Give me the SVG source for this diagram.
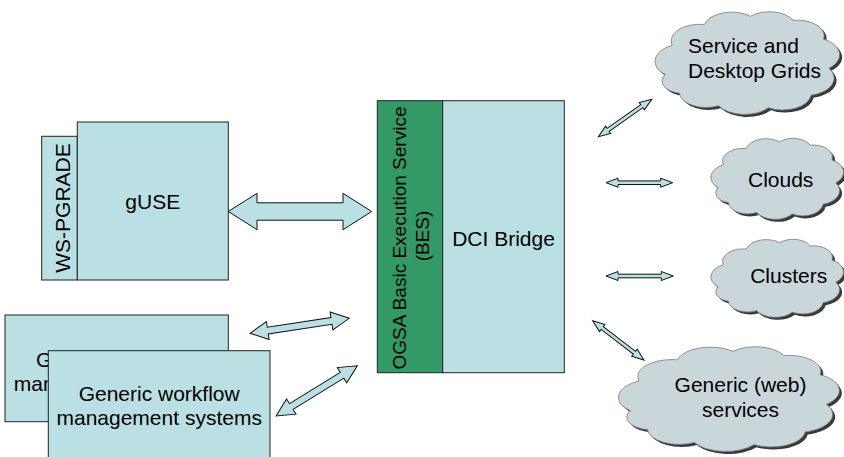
<svg xmlns="http://www.w3.org/2000/svg" xmlns:xlink="http://www.w3.org/1999/xlink" width="844" height="457" viewBox="0 0 844 457">
<style>
text{font-family:"Liberation Sans",Arial,sans-serif;font-size:21px;fill:#000}
.box{fill:#BBE0E3;stroke:#222;stroke-width:1}
.green{fill:#339966;stroke:#222;stroke-width:1}
.arr{fill:#BBE0E3;stroke:#111;stroke-width:1;stroke-linejoin:miter}
.cloud{fill:#C9D7DB;stroke:#777;stroke-width:0.8}
.shadow{fill:#3a3a3a;stroke:none}
.mid{text-anchor:middle}
</style>
<defs>
<path id="cloudshape" vector-effect="non-scaling-stroke" d="M4,62 A17,17 0 0 1 8,34 A16,16 0 0 1 26,14 A16,16 0 0 1 52,6 A15,15 0 0 1 76,10 A15,15 0 0 1 93,28 A17,17 0 0 1 96,56 A17,17 0 0 1 86,82 A16,16 0 0 1 62,94 A17,17 0 0 1 34,92 A15,15 0 0 1 12,80 A12,12 0 0 1 4,62 Z"/>
</defs>

<g id="connectors">
  <polygon class="arr" points="228.3,211.5 257,193.3 257,202.8 343,202.8 343,193.3 371.7,211.5 343,229.7 343,220.2 257,220.2 257,229.7"/>
  <g transform="translate(250,333.3) rotate(-8.6)">
    <polygon class="arr" points="0,0 18,-9 18,-3.4 82.4,-3.4 82.4,-9 100.4,0 82.4,9 82.4,3.4 18,3.4 18,9"/>
  </g>
  <g transform="translate(276,416) rotate(-31.7)">
    <polygon class="arr" points="0,0 18,-9 18,-3.4 77.6,-3.4 77.6,-9 95.6,0 77.6,9 77.6,3.4 18,3.4 18,9"/>
  </g>
  <g transform="translate(598.3,136.7) rotate(-35)">
    <polygon class="arr" points="0,0 12,-4.5 12,-1.8 53.2,-1.8 53.2,-4.5 65.2,0 53.2,4.5 53.2,1.8 12,1.8 12,4.5"/>
  </g>
  <g transform="translate(606,182.7)">
    <polygon class="arr" points="0,0 12,-4.5 12,-1.8 54.7,-1.8 54.7,-4.5 66.7,0 54.7,4.5 54.7,1.8 12,1.8 12,4.5"/>
  </g>
  <g transform="translate(606,276)">
    <polygon class="arr" points="0,0 12,-4.5 12,-1.8 55.3,-1.8 55.3,-4.5 67.3,0 55.3,4.5 55.3,1.8 12,1.8 12,4.5"/>
  </g>
  <g transform="translate(592.7,320.7) rotate(37.5)">
    <polygon class="arr" points="0,0 12,-4.5 12,-1.8 52.6,-1.8 52.6,-4.5 64.6,0 52.6,4.5 52.6,1.8 12,1.8 12,4.5"/>
  </g>
</g>

<g id="ws-pgrade">
  <rect class="box" x="41.7" y="136.3" width="35.6" height="143.7"/>
  <text class="mid" transform="translate(69.5,208) rotate(-90)">WS-PGRADE</text>
</g>
<g id="guse">
  <rect class="box" x="77.3" y="122" width="151" height="158"/>
  <text class="mid" x="152.8" y="209.3">gUSE</text>
</g>

<g id="ogsa-bes">
  <rect class="green" x="377.3" y="100.7" width="65.4" height="272"/>
  <text class="mid" style="font-size:19px" transform="translate(405.8,238) rotate(-90)">OGSA Basic Execution Service</text>
  <text class="mid" style="font-size:19px" transform="translate(429.3,236) rotate(-90)">(BES)</text>
</g>
<g id="dci-bridge">
  <rect class="box" x="442.7" y="100.7" width="121.6" height="272"/>
  <text class="mid" x="503.5" y="246">DCI Bridge</text>
</g>

<g id="gwms-back">
  <rect class="box" x="5" y="315" width="223.3" height="106.7"/>
  <text class="mid" x="116.5" y="367">Generic workflow</text>
  <text class="mid" x="116.5" y="391">management systems</text>
</g>
<g id="gwms-front">
  <rect class="box" x="48.3" y="350.7" width="221.7" height="115"/>
  <text class="mid" x="159.2" y="401">Generic workflow</text>
  <text class="mid" x="159.2" y="425">management systems</text>
</g>

<g id="cloud-grids">
  <use xlink:href="#cloudshape" class="shadow" transform="translate(660.5,12.5) scale(1.78,1.04)"/>
  <use xlink:href="#cloudshape" class="cloud" transform="translate(658,10) scale(1.78,1.04)"/>
  <text x="688" y="53">Service and</text>
  <text x="688" y="77.5">Desktop Grids</text>
</g>
<g id="cloud-clouds">
  <use xlink:href="#cloudshape" class="shadow" transform="translate(715.5,139.5) scale(1.28,0.82)"/>
  <use xlink:href="#cloudshape" class="cloud" transform="translate(713,137) scale(1.28,0.82)"/>
  <text class="mid" x="780.7" y="187">Clouds</text>
</g>
<g id="cloud-clusters">
  <use xlink:href="#cloudshape" class="shadow" transform="translate(715.5,240.5) scale(1.28,0.79)"/>
  <use xlink:href="#cloudshape" class="cloud" transform="translate(713,238) scale(1.28,0.79)"/>
  <text class="mid" x="788.7" y="282.7">Clusters</text>
</g>
<g id="cloud-services">
  <use xlink:href="#cloudshape" class="shadow" transform="translate(624.5,347.5) scale(2.13,1.06)"/>
  <use xlink:href="#cloudshape" class="cloud" transform="translate(622,345) scale(2.13,1.06)"/>
  <text class="mid" x="740.5" y="392">Generic (web)</text>
  <text class="mid" x="740.5" y="416.7">services</text>
</g>
</svg>
